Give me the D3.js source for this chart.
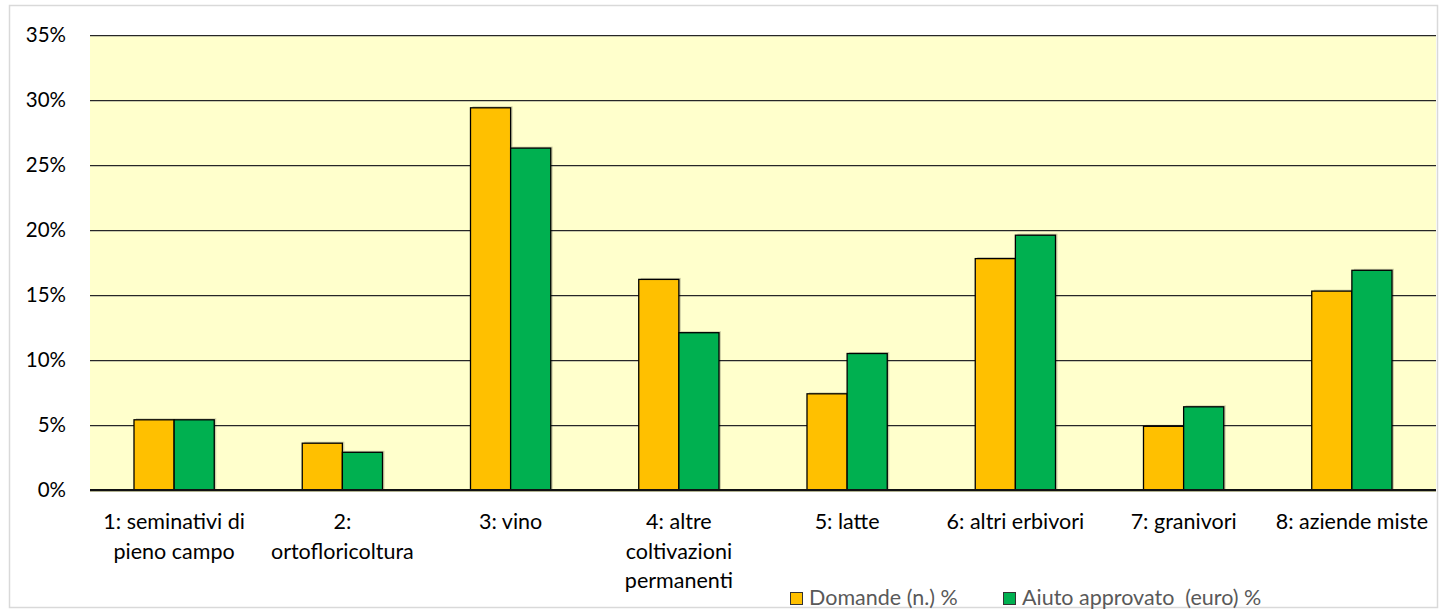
<!DOCTYPE html>
<html><head><meta charset="utf-8">
<script src="https://cdn.jsdelivr.net/npm/d3@7"></script>
<style>body{margin:0;background:#fff;}svg{display:block;font-family:Lato,"Open Sans",sans-serif;}</style>
</head><body><svg id="c" width="1442" height="611"></svg>
<script>
const categories = ["1: seminativi di pieno campo","2: ortofloricoltura","3: vino","4: altre coltivazioni permanenti","5: latte","6: altri erbivori","7: granivori","8: aziende miste"];
const labelLines = [["1: seminativi di","pieno campo"],["2:","ortofloricoltura"],["3: vino"],["4: altre","coltivazioni","permanenti"],["5: latte"],["6: altri erbivori"],["7: granivori"],["8: aziende miste"]];
const seriesNames = ["Domande (n.) %","Aiuto approvato  (euro) %"];
const domande = [5.4, 3.6, 29.4, 16.2, 7.4, 17.8, 4.9, 15.3];
const aiuto = [5.4, 2.9, 26.3, 12.1, 10.5, 19.6, 6.4, 16.9];
const yTicks = [0,5,10,15,20,25,30,35];
const colors = ["#FFC000","#00B050"];

const svg = d3.select("#c");
svg.append("rect").attr("x",9.5).attr("y",5.5).attr("width",1428).attr("height",602).attr("fill","#fff").attr("stroke","#d9d9d9").attr("stroke-width",1.5);

const pL=90, pR=1436, pT=35, pB=490;
const x = d3.scaleBand().domain(categories).range([pL,pR]).paddingInner(0).paddingOuter(0);
const y = d3.scaleLinear().domain([0,35]).range([pB,pT]);
const bw = x.bandwidth()*0.2385;

svg.append("rect").attr("x",pL).attr("y",pT).attr("width",pR-pL).attr("height",pB-pT).attr("fill","#FFFFCC");

const grid = svg.append("g");
yTicks.forEach(t=>{
  if(t===0) return;
  grid.append("line").attr("x1",pL).attr("x2",pR).attr("y1",y(t)+1.5).attr("y2",y(t)+1.5).attr("stroke","#c9c9a8").attr("stroke-width",1);
  grid.append("line").attr("x1",pL).attr("x2",pR).attr("y1",y(t)+0.5).attr("y2",y(t)+0.5).attr("stroke","#262626").attr("stroke-width",1);
});

const yAxis = d3.axisLeft(y).tickValues(yTicks).tickFormat(d=>d+"%").tickSize(0).tickPadding(24);
const ga = svg.append("g").attr("transform",`translate(${pL},0)`).call(yAxis);
ga.select(".domain").remove();
ga.selectAll("text").attr("font-size",20.5).attr("fill","#000").attr("font-family","Lato,'Open Sans',sans-serif");

const series=[domande,aiuto];
series.forEach((vals,si)=>{
  const g=svg.append("g");
  g.selectAll("rect.s").data(vals).join("rect")
    .attr("x",(d,i)=>x(categories[i])+x.bandwidth()/2-bw+si*bw+2)
    .attr("y",d=>y(d)-1.5).attr("width",bw).attr("height",d=>pB-y(d)+1.5)
    .attr("fill","rgba(0,0,0,0.18)");
});
series.forEach((vals,si)=>{
  const g=svg.append("g");
  g.selectAll("rect.b").data(vals).join("rect")
    .attr("x",(d,i)=>x(categories[i])+x.bandwidth()/2-bw+si*bw)
    .attr("y",d=>y(d)).attr("width",bw).attr("height",d=>pB-y(d))
    .attr("fill",colors[si]).attr("stroke","#000").attr("stroke-width",1.3);
});

svg.append("line").attr("x1",pL).attr("x2",pR).attr("y1",pB+1.5).attr("y2",pB+1.5).attr("stroke","#b0b090").attr("stroke-width",1);
svg.append("line").attr("x1",pL).attr("x2",pR).attr("y1",pB).attr("y2",pB).attr("stroke","#111").attr("stroke-width",2);

const xl = svg.append("g");
categories.forEach((c,i)=>{
  const cx = x(c)+x.bandwidth()/2;
  const t = xl.append("text").attr("x",cx).attr("y",529).attr("text-anchor","middle").attr("font-size",21.5).attr("fill","#000");
  labelLines[i].forEach((ln,j)=>t.append("tspan").attr("x",cx).attr("y",529+j*29.5).text(ln));
});

const leg = svg.append("g");
const legX=[790,1003];
seriesNames.forEach((n,i)=>{
  leg.append("rect").attr("x",legX[i]+0.5).attr("y",592.5).attr("width",12).attr("height",12).attr("fill",colors[i]).attr("stroke","#333").attr("stroke-width",1);
  leg.append("text").attr("x",legX[i]+19).attr("y",604.5).attr("font-size",21.5).attr("fill","#595959").attr("xml:space","preserve").style("white-space","pre").text(n);
});
</script></body></html>
